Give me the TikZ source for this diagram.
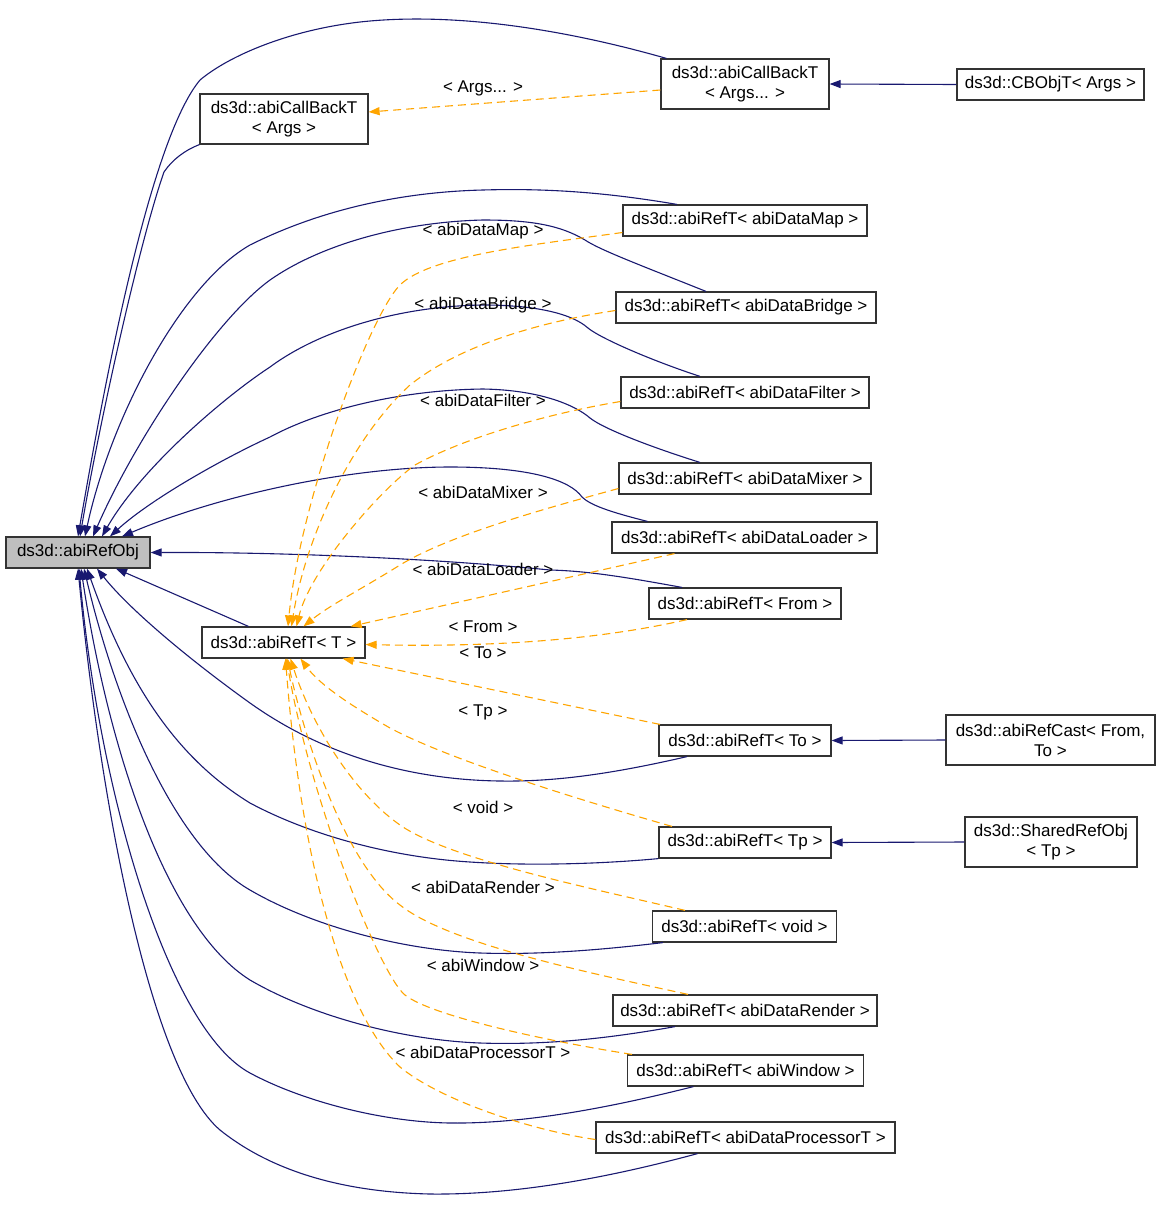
\documentclass[tikz,border=0pt]{standalone}
\usepackage{fontspec}
\setmainfont{Liberation Sans}
\usetikzlibrary{arrows.meta}
\definecolor{navy}{HTML}{191970}
\definecolor{tmplorange}{HTML}{FFA500}
\definecolor{boxgray}{HTML}{BFBFBF}
\tikzset{
  cls/.style={draw=black!80, line width=1.2pt, minimum height=31, inner xsep=0pt, inner ysep=2pt,
    align=center, font=\fontsize{17}{20}\selectfont},
  inh/.style={navy, line width=1.1pt, -{Triangle[length=11pt,width=8pt]}},
  tmpl/.style={tmplorange, line width=1.1pt, dash pattern=on 8pt off 5pt, -{Triangle[length=11pt,width=8pt]}},
  lbl/.style={font=\fontsize{17}{20}\selectfont, inner sep=1pt}
}
\begin{document}
\begin{tikzpicture}[x=1pt,y=-1pt]
		\useasboundingbox (0,0) rectangle (1160,1219);
		% classes
		\node[cls, fill=boxgray, minimum width=144] (refobj) at (78,552.5) {ds3d::abiRefObj};
		\node[cls, minimum width=163] (reft) at (283.5,642.5) {ds3d::abiRefT< T >};
		\node[cls, minimum width=168, minimum height=50] (cbargs) at (284,119) {ds3d::abiCallBackT\\< Args >};
		\node[cls, minimum width=168, minimum height=50] (cbvar) at (745,84) {ds3d::abiCallBackT\\< Args... >};
		\node[cls, minimum width=187] (cbobj) at (1050.5,84.5) {ds3d::CBObjT< Args >};
		\node[cls, minimum width=244] (rmap) at (745,220.5) {ds3d::abiRefT< abiDataMap >};
		\node[cls, minimum width=260] (rbridge) at (746,307.5) {ds3d::abiRefT< abiDataBridge >};
		\node[cls, minimum width=248] (rfilter) at (745,392.5) {ds3d::abiRefT< abiDataFilter >};
		\node[cls, minimum width=252] (rmixer) at (745,478.5) {ds3d::abiRefT< abiDataMixer >};
		\node[cls, minimum width=265] (rloader) at (744.5,537.5) {ds3d::abiRefT< abiDataLoader >};
		\node[cls, minimum width=192] (rfrom) at (745,603.5) {ds3d::abiRefT< From >};
		\node[cls, minimum width=172] (rto) at (745,740.5) {ds3d::abiRefT< To >};
		\node[cls, minimum width=209, minimum height=50] (rcast) at (1050.5,740) {ds3d::abiRefCast< From,\\ To >};
		\node[cls, minimum width=172] (rtp) at (745,842.5) {ds3d::abiRefT< Tp >};
		\node[cls, minimum width=172, minimum height=50] (shared) at (1051,842) {ds3d::SharedRefObj\\< Tp >};
		\node[cls, minimum width=184] (rvoid) at (744.5,926.5) {ds3d::abiRefT< void >};
		\node[cls, minimum width=264] (rrender) at (745,1010.5) {ds3d::abiRefT< abiDataRender >};
		\node[cls, minimum width=236] (rwindow) at (745.5,1070.5) {ds3d::abiRefT< abiWindow >};
		\node[cls, minimum width=299] (rproc) at (745.5,1137.5) {ds3d::abiRefT< abiDataProcessorT >};
		
		% inheritance
		\draw[inh] (cbobj.west) -- (cbvar.east);
		\draw[inh] (rcast.west) -- (rto.east);
		\draw[inh] (shared.west) -- (rtp.east);
		\draw[inh] ([xshift=6]cbvar.north west) .. controls (560,28) and (450,12) .. (360,22) .. controls (290,30) and (230,55) .. (200,80) .. controls (150,140) and (105,380) .. (refobj.north);
		\draw[inh] (cbargs.south west) .. controls (185,150) and (172,160) .. (164,172) .. controls (140,240) and (100,420) .. ([xshift=2]refobj.north);
		\draw[inh] ([xshift=-68]rmap.north) .. controls (610,193) and (550,188) .. (483,190) .. controls (400,192) and (320,210) .. (250,245) .. controls (180,285) and (110,420) .. ([xshift=7]refobj.north);
		\draw[inh] ([xshift=-40]rbridge.north) .. controls (640,265) and (600,250) .. (585,240) .. controls (560,225) and (530,220) .. (483,220) .. controls (400,222) and (320,245) .. (270,280) .. controls (215,320) and (135,440) .. ([xshift=15]refobj.north);
		\draw[inh] ([xshift=-45]rfilter.north) .. controls (650,360) and (600,338) .. (588,328) .. controls (570,312) and (530,305) .. (483,305) .. controls (400,306) and (320,330) .. (270,367) .. controls (220,400) and (140,470) .. ([xshift=24]refobj.north);
		\draw[inh] ([xshift=-45]rmixer.north) .. controls (660,450) and (605,430) .. (590,418) .. controls (575,405) and (540,390) .. (483,389) .. controls (400,390) and (320,410) .. (270,437) .. controls (220,460) and (150,500) .. ([xshift=32]refobj.north);
		\draw[inh] ([xshift=-97]rloader.north) .. controls (610,512) and (590,505) .. (582,497) .. controls (570,480) and (530,467) .. (450,467) .. controls (350,467) and (220,495) .. ([xshift=44]refobj.north);
		\draw[inh] ([xshift=-63]rfrom.north) .. controls (630,578) and (590,571) .. (550,570) .. controls (450,560) and (300,552) .. (refobj.east);
		\draw[inh] ([xshift=-35]reft.north) -- ([xshift=38]refobj.south);
		\draw[inh] ([xshift=-58]rto.south) .. controls (620,772) and (560,782) .. (500,781) .. controls (420,780) and (330,760) .. (250,703) .. controls (190,660) and (130,610) .. ([xshift=19]refobj.south);
		\draw[inh] (rtp.south west) .. controls (600,864) and (530,866) .. (470,862) .. controls (390,857) and (310,835) .. (250,803) .. controls (180,760) and (130,690) .. ([xshift=9]refobj.south);
		\draw[inh] ([xshift=11]rvoid.south west) .. controls (600,950) and (540,955) .. (480,953) .. controls (400,950) and (310,925) .. (250,890) .. controls (180,850) and (120,720) .. ([xshift=6]refobj.south);
		\draw[inh] ([xshift=-70]rrender.south) .. controls (600,1040) and (540,1045) .. (480,1043) .. controls (400,1040) and (310,1015) .. (250,980) .. controls (170,930) and (110,760) .. ([xshift=3]refobj.south);
		\draw[inh] ([xshift=-52]rwindow.south) .. controls (620,1105) and (530,1124) .. (450,1123) .. controls (380,1122) and (300,1100) .. (250,1073) .. controls (170,1030) and (100,800) .. ([xshift=1]refobj.south);
		\draw[inh] ([xshift=-48]rproc.south) .. controls (600,1180) and (510,1195) .. (430,1194) .. controls (340,1192) and (270,1170) .. (220,1130) .. controls (150,1070) and (100,800) .. (refobj.south);
		
		% template instances
		\draw[tmpl] ([yshift=-6]cbvar.west) -- ([yshift=7]cbargs.east);
		\draw[tmpl] ([yshift=-12]rmap.west) .. controls (540,244) and (430,255) .. (400,285) .. controls (370,315) and (300,500) .. ([xshift=4.5]reft.north);
		\draw[tmpl] ([yshift=-3]rbridge.west) .. controls (540,322) and (460,345) .. (410,385) .. controls (350,440) and (305,540) .. ([xshift=8]reft.north);
		\draw[tmpl] ([yshift=-9]rfilter.west) .. controls (540,415) and (460,440) .. (415,465) .. controls (380,490) and (310,570) .. ([xshift=13]reft.north);
		\draw[tmpl] ([yshift=-10]rmixer.west) .. controls (540,510) and (450,535) .. (400,565) .. controls (360,590) and (330,605) .. ([xshift=20]reft.north);
		\draw[tmpl] ([xshift=-70]rloader.south) -- ([xshift=-15]reft.north east);
		\draw[tmpl] ([xshift=-58]rfrom.south) .. controls (620,635) and (520,648) .. ([yshift=-2]reft.east);
		\draw[tmpl] ([xshift=-85]rto.north) -- ([xshift=-23]reft.south east);
		\draw[tmpl] ([xshift=-73]rtp.north) .. controls (580,800) and (450,760) .. (390,728) .. controls (350,705) and (320,685) .. ([xshift=17]reft.south);
		\draw[tmpl] ([xshift=-59.5]rvoid.north) .. controls (600,890) and (450,860) .. (400,825) .. controls (350,790) and (310,720) .. ([xshift=7]reft.south);
		\draw[tmpl] ([xshift=-57]rrender.north) .. controls (600,975) and (450,945) .. (400,905) .. controls (340,860) and (300,720) .. ([xshift=4]reft.south);
		\draw[tmpl] ([xshift=-113.5]rwindow.north) .. controls (540,1040) and (430,1015) .. (405,995) .. controls (380,975) and (310,800) .. ([xshift=3]reft.south);
		\draw[tmpl] ([yshift=-2]rproc.west) .. controls (530,1130) and (440,1100) .. (400,1067) .. controls (340,1010) and (300,850) .. ([xshift=2]reft.south);
		
		% labels
		\node[lbl] (largs) at (483,88) {< Args... >};
		\node[lbl] (lmap) at (483,231) {< abiDataMap >};
		\node[lbl] (lbridge) at (483,305) {< abiDataBridge >};
		\node[lbl] (lfilter) at (483,400) {< abiDataFilter >};
		\node[lbl] (lmixer) at (483,492) {< abiDataMixer >};
		\node[lbl] (lloader) at (483,569) {< abiDataLoader >};
		\node[lbl] (lfrom) at (483,627) {< From >};
		\node[lbl] (lto) at (483,653) {< To >};
		\node[lbl] (ltp) at (483,712) {< Tp >};
		\node[lbl] (lvoid) at (483,807) {< void >};
		\node[lbl] (lrender) at (483,887) {< abiDataRender >};
		\node[lbl] (lwindow) at (483,965) {< abiWindow >};
		\node[lbl] (lproc) at (483,1052) {< abiDataProcessorT >};
	\end{tikzpicture}
\end{document}
